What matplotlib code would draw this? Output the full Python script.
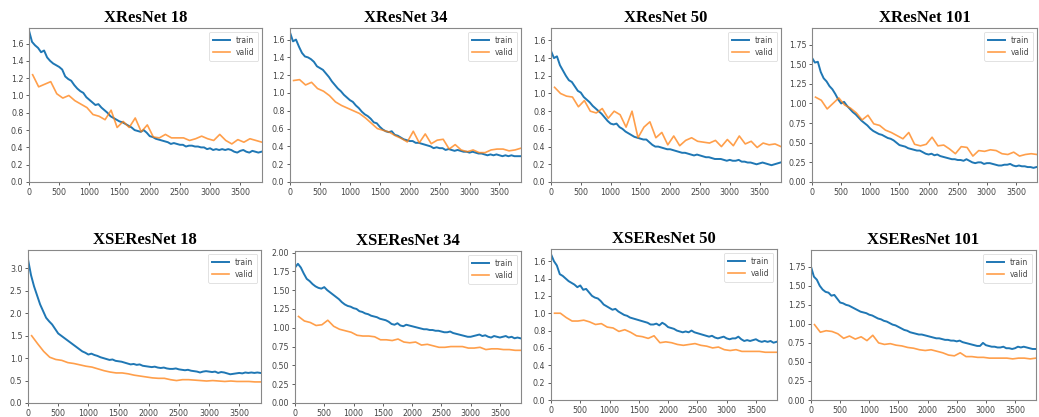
import numpy as np
import matplotlib
matplotlib.use("Agg")
import matplotlib.pyplot as plt

# training steps (train logged every 50 iters, valid once per ~100 iters)
train_steps = np.arange(0, 3851, 50)
valid_steps = np.arange(60, 3861, 100)

titles = ["XResNet 18", "XResNet 34", "XResNet 50", "XResNet 101",
          "XSEResNet 18", "XSEResNet 34", "XSEResNet 50", "XSEResNet 101"]

# ---- XResNet 18
xres18_train = [1.75, 1.62, 1.58, 1.55, 1.50, 1.52, 1.44, 1.40, 1.37, 1.35,
                1.33, 1.30, 1.22, 1.19, 1.17, 1.12, 1.08, 1.05, 1.03, 0.98,
                0.95, 0.92, 0.89, 0.90, 0.86, 0.83, 0.80, 0.76, 0.74, 0.72,
                0.70, 0.69, 0.67, 0.65, 0.63, 0.60, 0.59, 0.58, 0.60, 0.57,
                0.53, 0.52, 0.50, 0.49, 0.48, 0.47, 0.46, 0.44, 0.45, 0.44,
                0.43, 0.43, 0.41, 0.42, 0.42, 0.41, 0.41, 0.40, 0.40, 0.38,
                0.39, 0.37, 0.38, 0.37, 0.38, 0.37, 0.38, 0.37, 0.35, 0.34,
                0.36, 0.37, 0.35, 0.34, 0.36, 0.35, 0.34, 0.35]
xres18_valid = [1.24, 1.10, 1.13, 1.16, 1.02, 0.97, 1.00, 0.94, 0.90, 0.86,
                0.78, 0.76, 0.72, 0.83, 0.63, 0.70, 0.63, 0.74, 0.58, 0.66,
                0.52, 0.51, 0.55, 0.51, 0.51, 0.51, 0.48, 0.50, 0.53, 0.50,
                0.48, 0.55, 0.48, 0.44, 0.49, 0.46, 0.50, 0.48, 0.46]

# ---- XResNet 34
xres34_train = [1.68, 1.58, 1.60, 1.52, 1.45, 1.41, 1.40, 1.38, 1.35, 1.30,
                1.28, 1.26, 1.22, 1.18, 1.13, 1.09, 1.05, 1.02, 0.98, 0.95,
                0.92, 0.90, 0.86, 0.83, 0.79, 0.76, 0.74, 0.71, 0.67, 0.66,
                0.62, 0.59, 0.57, 0.56, 0.57, 0.53, 0.52, 0.50, 0.48, 0.47,
                0.46, 0.46, 0.44, 0.44, 0.43, 0.42, 0.41, 0.40, 0.38, 0.39,
                0.38, 0.38, 0.36, 0.37, 0.36, 0.35, 0.36, 0.35, 0.34, 0.34,
                0.33, 0.34, 0.33, 0.32, 0.32, 0.31, 0.30, 0.31, 0.30, 0.31,
                0.30, 0.29, 0.30, 0.29, 0.30, 0.29, 0.29, 0.29]
xres34_valid = [1.14, 1.15, 1.09, 1.12, 1.05, 1.02, 0.97, 0.90, 0.86, 0.83,
                0.80, 0.77, 0.72, 0.66, 0.60, 0.58, 0.56, 0.52, 0.49, 0.45,
                0.57, 0.44, 0.54, 0.43, 0.47, 0.48, 0.37, 0.42, 0.36, 0.34,
                0.36, 0.33, 0.33, 0.36, 0.37, 0.37, 0.35, 0.36, 0.38]

# ---- XResNet 50
xres50_train = [1.48, 1.40, 1.42, 1.32, 1.26, 1.20, 1.15, 1.13, 1.08, 1.03,
                1.01, 0.96, 0.93, 0.90, 0.86, 0.83, 0.80, 0.77, 0.73, 0.69,
                0.66, 0.65, 0.66, 0.62, 0.60, 0.57, 0.55, 0.53, 0.51, 0.50,
                0.49, 0.48, 0.48, 0.45, 0.42, 0.40, 0.40, 0.39, 0.38, 0.37,
                0.37, 0.36, 0.35, 0.34, 0.33, 0.33, 0.32, 0.31, 0.30, 0.31,
                0.30, 0.29, 0.28, 0.28, 0.27, 0.26, 0.26, 0.26, 0.25, 0.24,
                0.25, 0.24, 0.24, 0.25, 0.23, 0.23, 0.22, 0.22, 0.21, 0.20,
                0.21, 0.22, 0.21, 0.20, 0.19, 0.20, 0.21, 0.22]
xres50_valid = [1.07, 1.00, 0.97, 0.96, 0.85, 0.92, 0.80, 0.78, 0.83, 0.72,
                0.80, 0.76, 0.62, 0.80, 0.50, 0.62, 0.68, 0.50, 0.56, 0.42,
                0.52, 0.41, 0.47, 0.50, 0.46, 0.45, 0.44, 0.47, 0.40, 0.48,
                0.41, 0.52, 0.43, 0.46, 0.39, 0.44, 0.42, 0.43, 0.40]

# ---- XResNet 101
xres101_train = [1.58, 1.52, 1.53, 1.40, 1.32, 1.28, 1.22, 1.18, 1.12, 1.05,
                 1.00, 1.02, 0.97, 0.93, 0.89, 0.86, 0.82, 0.78, 0.75, 0.72,
                 0.68, 0.65, 0.63, 0.61, 0.60, 0.58, 0.56, 0.55, 0.53, 0.50,
                 0.47, 0.46, 0.45, 0.43, 0.42, 0.41, 0.40, 0.40, 0.38, 0.36,
                 0.35, 0.36, 0.34, 0.35, 0.33, 0.32, 0.31, 0.30, 0.29, 0.29,
                 0.28, 0.28, 0.27, 0.29, 0.27, 0.25, 0.24, 0.25, 0.25, 0.23,
                 0.24, 0.24, 0.23, 0.22, 0.21, 0.21, 0.22, 0.22, 0.23, 0.21,
                 0.20, 0.21, 0.20, 0.20, 0.19, 0.19, 0.18, 0.19]
xres101_valid = [1.08, 1.04, 0.93, 1.00, 1.07, 0.98, 0.94, 0.88, 0.79, 0.85,
                 0.74, 0.72, 0.66, 0.63, 0.59, 0.55, 0.63, 0.48, 0.46, 0.48,
                 0.57, 0.46, 0.47, 0.42, 0.36, 0.45, 0.44, 0.33, 0.40, 0.39,
                 0.41, 0.40, 0.36, 0.35, 0.38, 0.33, 0.35, 0.36, 0.35]

# ---- XSEResNet 18
xse18_train = [3.20, 2.85, 2.60, 2.40, 2.20, 2.05, 1.90, 1.82, 1.75, 1.65,
               1.55, 1.50, 1.45, 1.40, 1.35, 1.30, 1.25, 1.20, 1.15, 1.12,
               1.08, 1.10, 1.07, 1.05, 1.02, 1.00, 0.98, 0.96, 0.97, 0.94,
               0.93, 0.92, 0.90, 0.88, 0.86, 0.87, 0.85, 0.86, 0.83, 0.82,
               0.81, 0.80, 0.81, 0.79, 0.78, 0.79, 0.77, 0.76, 0.76, 0.77,
               0.75, 0.74, 0.73, 0.74, 0.72, 0.71, 0.70, 0.68, 0.70, 0.71,
               0.70, 0.69, 0.70, 0.67, 0.69, 0.68, 0.66, 0.64, 0.65, 0.66,
               0.67, 0.66, 0.68, 0.67, 0.68, 0.67, 0.68, 0.67]
xse18_valid = [1.50, 1.32, 1.15, 1.02, 0.97, 0.95, 0.90, 0.88, 0.85, 0.82,
               0.80, 0.76, 0.72, 0.69, 0.67, 0.67, 0.65, 0.62, 0.60, 0.58,
               0.56, 0.55, 0.55, 0.52, 0.50, 0.52, 0.52, 0.51, 0.50, 0.49,
               0.50, 0.49, 0.48, 0.49, 0.48, 0.48, 0.48, 0.47, 0.47]

# ---- XSEResNet 34
xse34_train = [1.80, 1.85, 1.80, 1.72, 1.65, 1.62, 1.58, 1.55, 1.53, 1.52,
               1.54, 1.50, 1.47, 1.44, 1.41, 1.38, 1.34, 1.31, 1.29, 1.28,
               1.26, 1.25, 1.22, 1.21, 1.19, 1.18, 1.16, 1.15, 1.14, 1.12,
               1.11, 1.10, 1.08, 1.05, 1.04, 1.06, 1.03, 1.02, 1.04, 1.03,
               1.02, 1.01, 1.00, 0.99, 0.98, 0.98, 0.97, 0.97, 0.96, 0.96,
               0.95, 0.94, 0.94, 0.95, 0.93, 0.92, 0.91, 0.90, 0.89, 0.88,
               0.88, 0.89, 0.90, 0.91, 0.89, 0.90, 0.88, 0.87, 0.89, 0.88,
               0.87, 0.88, 0.89, 0.87, 0.88, 0.86, 0.87, 0.86]
xse34_valid = [1.15, 1.09, 1.07, 1.03, 1.04, 1.10, 1.02, 0.98, 0.96, 0.94,
               0.90, 0.89, 0.89, 0.88, 0.84, 0.84, 0.83, 0.85, 0.81, 0.80,
               0.81, 0.77, 0.78, 0.76, 0.74, 0.74, 0.75, 0.75, 0.75, 0.73,
               0.73, 0.74, 0.71, 0.72, 0.72, 0.71, 0.71, 0.70, 0.70]

# ---- XSEResNet 50
xse50_train = [1.68, 1.60, 1.55, 1.45, 1.43, 1.40, 1.37, 1.35, 1.33, 1.30,
               1.32, 1.27, 1.28, 1.24, 1.20, 1.18, 1.17, 1.14, 1.10, 1.08,
               1.06, 1.04, 1.05, 1.02, 1.00, 0.98, 0.97, 0.95, 0.94, 0.93,
               0.92, 0.91, 0.90, 0.89, 0.87, 0.87, 0.88, 0.86, 0.89, 0.87,
               0.84, 0.83, 0.82, 0.80, 0.79, 0.78, 0.79, 0.78, 0.80, 0.78,
               0.77, 0.76, 0.75, 0.74, 0.73, 0.74, 0.72, 0.71, 0.72, 0.73,
               0.71, 0.70, 0.71, 0.71, 0.73, 0.70, 0.68, 0.69, 0.68, 0.69,
               0.70, 0.68, 0.67, 0.68, 0.67, 0.68, 0.66, 0.67]
xse50_valid = [1.00, 1.00, 0.95, 0.91, 0.91, 0.92, 0.90, 0.87, 0.88, 0.84,
               0.83, 0.79, 0.81, 0.78, 0.74, 0.73, 0.71, 0.74, 0.66, 0.67,
               0.66, 0.64, 0.63, 0.64, 0.65, 0.63, 0.62, 0.60, 0.61, 0.58,
               0.57, 0.58, 0.56, 0.56, 0.56, 0.56, 0.55, 0.55, 0.55]

# ---- XSEResNet 101
xse101_train = [1.75, 1.62, 1.58, 1.50, 1.45, 1.42, 1.41, 1.37, 1.38, 1.33,
                1.28, 1.27, 1.25, 1.24, 1.22, 1.20, 1.18, 1.16, 1.15, 1.14,
                1.12, 1.11, 1.09, 1.07, 1.06, 1.04, 1.03, 1.01, 0.99, 0.98,
                0.96, 0.94, 0.92, 0.91, 0.89, 0.88, 0.87, 0.86, 0.86, 0.85,
                0.84, 0.83, 0.82, 0.81, 0.81, 0.80, 0.79, 0.79, 0.78, 0.78,
                0.77, 0.78, 0.76, 0.75, 0.74, 0.73, 0.72, 0.71, 0.71, 0.75,
                0.72, 0.71, 0.70, 0.70, 0.69, 0.69, 0.70, 0.68, 0.68, 0.67,
                0.68, 0.70, 0.69, 0.70, 0.69, 0.68, 0.67, 0.67]
xse101_valid = [0.99, 0.89, 0.91, 0.90, 0.87, 0.81, 0.84, 0.80, 0.83, 0.78,
                0.85, 0.75, 0.73, 0.74, 0.72, 0.71, 0.69, 0.68, 0.66, 0.65,
                0.66, 0.64, 0.62, 0.59, 0.58, 0.62, 0.57, 0.57, 0.56, 0.56,
                0.55, 0.55, 0.55, 0.55, 0.54, 0.55, 0.55, 0.54, 0.55]

train_series = [xres18_train, xres34_train, xres50_train, xres101_train,
                xse18_train, xse34_train, xse50_train, xse101_train]
valid_series = [xres18_valid, xres34_valid, xres50_valid, xres101_valid,
                xse18_valid, xse34_valid, xse50_valid, xse101_valid]
y_tops = [1.78, 1.73, 1.74, 1.96, 3.41, 2.02, 1.74, 1.97]

# axes boxes in pixels: left, right, top, bottom
W, H = 1039, 417
boxes = [(29, 262, 28, 182), (290, 521, 28, 182), (551, 781, 28, 182), (812, 1037, 28, 182),
         (28, 261, 250, 403), (295, 521, 251, 403), (551, 777, 249, 400), (811, 1036, 250, 400)]

fig = plt.figure(figsize=(W / 100, H / 100), dpi=100)

for i in range(8):
    l, r, t, b = boxes[i]
    ax = fig.add_axes([l / W, 1 - b / H, (r - l) / W, (b - t) / H])
    ax.plot(train_steps, train_series[i], color="#1f77b4", lw=1.4, label="train")
    ax.plot(valid_steps, valid_series[i], color="#ff7f0e", lw=1.2, alpha=0.75, label="valid")
    ax.set_xlim(0, 3860)
    ax.set_ylim(0, y_tops[i])
    ax.set_xticks([0, 500, 1000, 1500, 2000, 2500, 3000, 3500])
    ax.tick_params(labelsize=5.7, length=2.5, width=0.6, pad=1.5,
                   colors="#444444")
    for sp in ax.spines.values():
        sp.set_color("#888888")
        sp.set_linewidth(0.8)
    ax.set_title(titles[i], fontsize=12, fontweight="bold",
                 family="Liberation Serif", pad=4)
    leg = ax.legend(loc="upper right", fontsize=5.5, handlelength=2.2,
                    borderpad=0.5, labelspacing=0.4, framealpha=0.8)
    leg.get_frame().set_linewidth(0.5)
    for txt in leg.get_texts():
        txt.set_color("#444444")

fig.savefig("out.png", dpi=100)
